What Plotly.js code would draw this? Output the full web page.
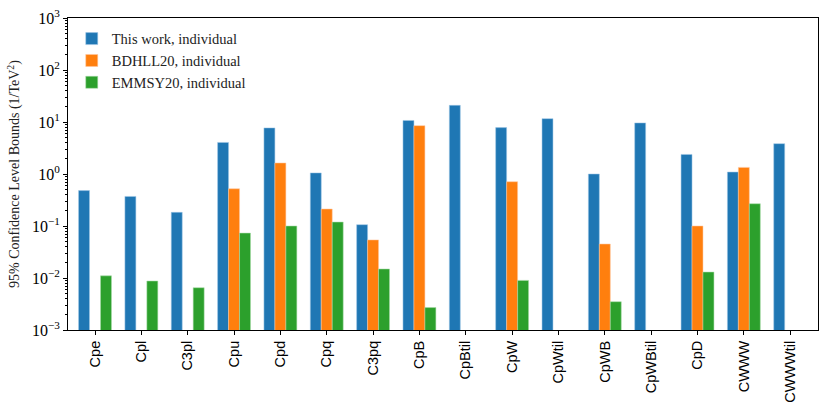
<!DOCTYPE html>
<html>
<head>
<meta charset="utf-8">
<script src="https://cdn.plot.ly/plotly-3.0.1.min.js"></script>
<style>html,body{margin:0;padding:0;background:#fff;}#chart{width:830px;height:415px;}</style>
</head>
<body>
<div id="chart"></div>
<script>
const categories = ["Cpe","Cpl","C3pl","Cpu","Cpd","Cpq","C3pq","CpB","CpBtil","CpW","CpWtil","CpWB","CpWBtil","CpD","CWWW","CWWWtil"];
const thisWork = [0.48, 0.37, 0.183, 4.05, 7.7, 1.05, 0.106, 10.7, 20.9, 7.8, 11.6, 1.0, 9.6, 2.38, 1.09, 3.83];
const bdhll20 = [null, null, null, 0.52, 1.63, 0.212, 0.054, 8.5, null, 0.71, null, 0.045, null, 0.1, 1.34, null];
const emmsy20 = [0.011, 0.00875, 0.0065, 0.073, 0.1, 0.119, 0.0149, 0.0027, null, 0.009, null, 0.0035, null, 0.013, 0.268, null];
const seriesNames = ["This work, individual", "BDHLL20, individual", "EMMSY20, individual"];
const yTickVals = [0.001, 0.01, 0.1, 1, 10, 100, 1000];
const yTickText = ["10<sup>\u22123</sup>", "10<sup>\u22122</sup>", "10<sup>\u22121</sup>", "10<sup>0</sup>", "10<sup>1</sup>", "10<sup>2</sup>", "10<sup>3</sup>"];
const colors = ["#1f77b4", "#ff7f0e", "#2ca02c"];
const edgeColors = ["rgba(160,200,230,0.9)", "rgba(255,200,160,0.9)", "rgba(170,220,170,0.9)"];

const values = [thisWork, bdhll20, emmsy20];
const data = values.map((v, i) => ({
  type: "bar",
  x: categories,
  y: v,
  name: seriesNames[i],
  marker: {color: colors[i], line: {color: edgeColors[i], width: 0.6}},
  hoverinfo: "x+y+name"
}));

const serif = "Liberation Serif, DejaVu Serif, serif";
const layout = {
  width: 830, height: 415,
  margin: {l: 68, r: 12, t: 18, b: 85},
  paper_bgcolor: "#fff", plot_bgcolor: "#fff",
  barmode: "group",
  bargap: 0.29,
  bargroupgap: 0,
  showlegend: true,
  legend: {
    x: 0.005, y: 0.985, xanchor: "left", yanchor: "top",
    bgcolor: "rgba(255,255,255,0.8)",
    font: {family: serif, size: 14.5, color: "#222"},
    itemwidth: 30,
    tracegroupgap: 0
  },
  xaxis: {
    type: "category",
    range: [-0.583, 15.6],
    tickangle: -90,
    tickfont: {family: "Liberation Sans, Arial, sans-serif", size: 14.5, color: "#000"},
    ticks: "outside", ticklen: 4, tickcolor: "#000",
    showline: true, linecolor: "#000", linewidth: 1, mirror: true,
    showgrid: false, zeroline: false
  },
  yaxis: {
    type: "log",
    range: [-3, 3],
    tickmode: "array",
    tickvals: yTickVals,
    ticktext: yTickText,
    tickfont: {family: serif, size: 16, color: "#000"},
    ticks: "outside", ticklen: 4, tickcolor: "#000",
    minor: {ticks: "outside", ticklen: 2, tickcolor: "#000", showgrid: false, dtick: "D1"},
    showline: true, linecolor: "#000", linewidth: 1, mirror: true,
    showgrid: false, zeroline: false,
    title: {text: "95% Confidence Level Bounds (1/TeV<sup>2</sup>)", font: {family: serif, size: 14, color: "#222"}, standoff: 8}
  }
};

Plotly.newPlot("chart", data, layout, {displayModeBar: false, staticPlot: true});
</script>
</body>
</html>
